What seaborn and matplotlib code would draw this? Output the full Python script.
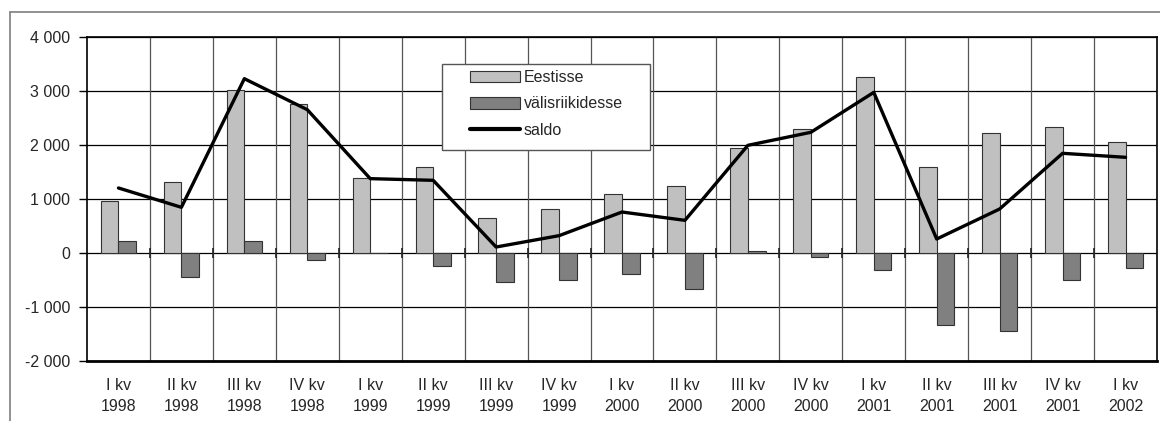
import numpy as np
import pandas as pd
import matplotlib
matplotlib.use("Agg")
import matplotlib.pyplot as plt
from matplotlib.patches import Patch, Rectangle
from matplotlib.lines import Line2D
import seaborn as sns

# data
quarters = ["I kv", "II kv", "III kv", "IV kv", "I kv", "II kv", "III kv", "IV kv",
            "I kv", "II kv", "III kv", "IV kv", "I kv", "II kv", "III kv", "IV kv", "I kv"]
years = ["1998", "1998", "1998", "1998", "1999", "1999", "1999", "1999",
         "2000", "2000", "2000", "2000", "2001", "2001", "2001", "2001", "2002"]
eestisse = [957, 1309, 3012, 2759, 1389, 1593, 642, 815,
            1099, 1235, 1938, 2296, 3253, 1593, 2228, 2333, 2049]
valisriikidesse = [216, -450, 216, -136, 0, -247, -531, -494,
                   -389, -667, 37, -68, -315, -1333, -1444, -494, -278]
saldo = [1204, 846, 3228, 2654, 1377, 1346, 111, 321,
         759, 605, 1994, 2235, 2975, 259, 815, 1846, 1772]

labels = [f"{q}\n{y}" for q, y in zip(quarters, years)]
n = len(labels)

df = pd.DataFrame({
    "period": labels * 2,
    "value": eestisse + valisriikidesse,
    "series": ["Eestisse"] * n + ["välisriikidesse"] * n,
})

sns.set_style("white")
plt.rcParams["font.family"] = ["Liberation Sans", "DejaVu Sans"]

W, H = 1160, 421
fig = plt.figure(figsize=(W / 100, H / 100), dpi=100)
ax = fig.add_axes([87 / W, 1 - 361 / H, 1070 / W, 324 / H])

# outer frame (left and top only are visible)
fig.add_artist(Line2D([10 / W, 10 / W], [0, 1 - 12 / H], transform=fig.transFigure,
                      color="#7f7f7f", lw=1.2))
fig.add_artist(Line2D([10 / W, 1], [1 - 12 / H, 1 - 12 / H], transform=fig.transFigure,
                      color="#7f7f7f", lw=1.2))

sns.barplot(data=df, x="period", y="value", hue="series", order=labels,
            palette={"Eestisse": "#c0c0c0", "välisriikidesse": "#808080"},
            width=0.56, gap=0, edgecolor="#333333", linewidth=0.8,
            legend=False, ax=ax, zorder=3)
sns.lineplot(x=np.arange(n), y=saldo, color="black", linewidth=2.4, ax=ax, zorder=4)

ax.set_xlim(-0.5, n - 0.5)
ax.set_ylim(-2000, 4000)
yt = np.arange(-2000, 4001, 1000)
ax.set_yticks(yt)
ax.set_yticklabels([f"{v:,}".replace(",", " ") for v in yt], fontsize=11.5)
ax.set_xticks(np.arange(n))
ax.set_xticklabels(labels, fontsize=11.5, linespacing=1.52)
ax.tick_params(axis="x", length=0, pad=12)
ax.tick_params(axis="y", length=6, width=1, color="black", pad=6, left=True)
ax.set_xlabel("")
ax.set_ylabel("")

# grid: black horizontal, gray vertical at category boundaries
for v in yt:
    ax.axhline(v, color="black", lw=0.9, zorder=1)
bounds = np.arange(n + 1) - 0.5
ax.vlines(bounds[1:-1], -2000, 4000, color="#555555", lw=0.9, zorder=1)
ax.vlines(bounds[1:-1], -90, 90, color="#222222", lw=1.2, zorder=2)

for side in ["left", "top", "right"]:
    ax.spines[side].set_color("black")
    ax.spines[side].set_linewidth(1.2)
ax.spines["bottom"].set_color("black")
ax.spines["bottom"].set_linewidth(2)

# legend box drawn separately so its size matches the reference
ax.add_patch(Rectangle((442 / W, 1 - 150 / H), 208 / W, 86 / H, transform=fig.transFigure,
                       facecolor="white", edgecolor="#555555", lw=1, zorder=9, clip_on=False))
handles = [Patch(facecolor="#c0c0c0", edgecolor="#333333", lw=0.8),
           Patch(facecolor="#808080", edgecolor="#333333", lw=0.8),
           Line2D([0], [0], color="black", lw=3)]
leg = ax.legend(handles, ["Eestisse", "välisriikidesse", "saldo"],
                loc="upper left", bbox_to_anchor=(470 / W, 1 - 70 / H),
                bbox_transform=fig.transFigure,
                fontsize=11.5, frameon=False, handlelength=3.1,
                handleheight=0.7, handletextpad=0.25, borderpad=0,
                labelspacing=0.72, borderaxespad=0)
leg.set_zorder(10)

fig.savefig("out.png", dpi=100)
